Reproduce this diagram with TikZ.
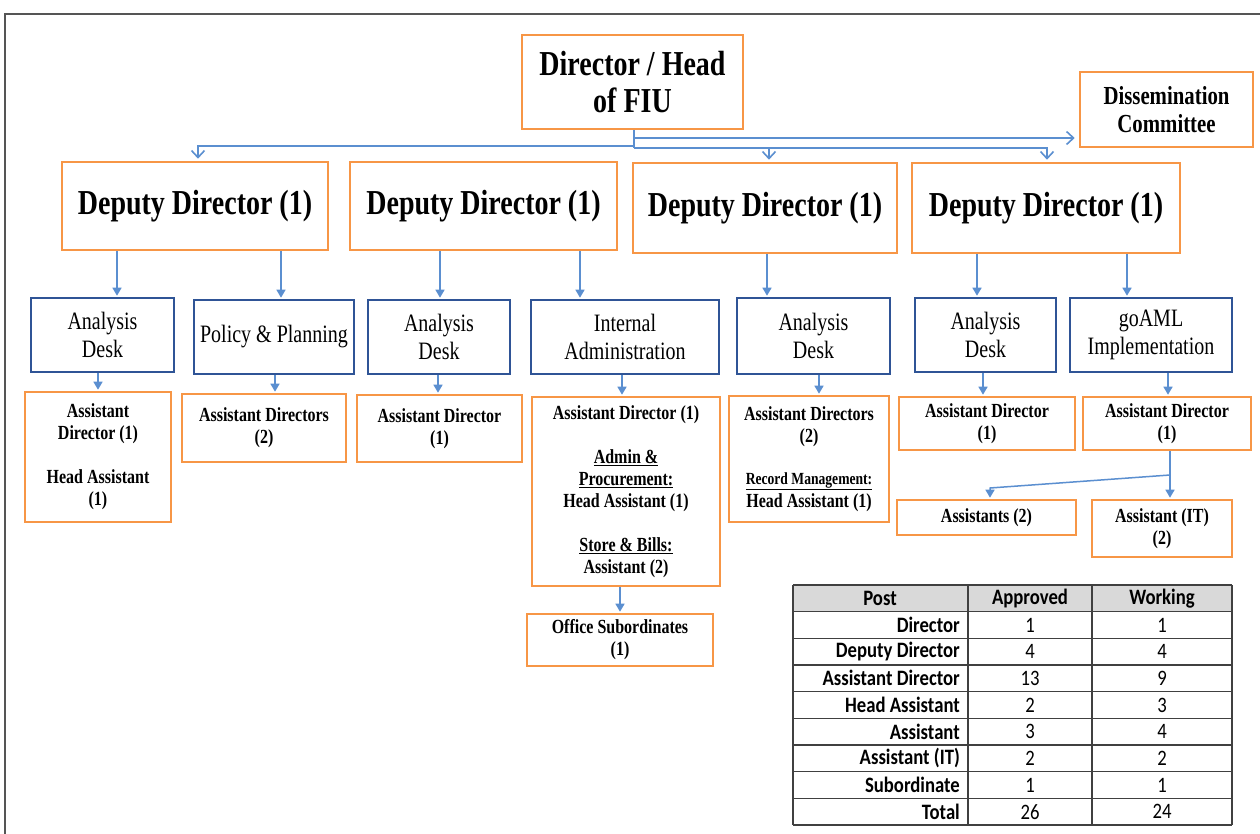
\documentclass[tikz,border=0pt]{standalone}
\usepackage{fontspec}
\setmainfont{Liberation Serif}[FakeStretch=0.8]
\newfontfamily\tabfont{Carlito}[FakeStretch=0.85]
\usetikzlibrary{arrows.meta}
\definecolor{boxorange}{HTML}{F79646}
\definecolor{boxblue}{HTML}{2F5496}
\definecolor{linkblue}{HTML}{5B8FD0}
\definecolor{framegray}{HTML}{555555}
\definecolor{headgray}{HTML}{D9D9D9}
\definecolor{gridgray}{HTML}{404040}
\begin{document}
\begin{tikzpicture}[x=1pt,y=-1pt,
  box/.style={draw, line width=2.6pt, fill=white, inner sep=0pt, align=center},
  obox/.style={box, draw=boxorange},
  bbox/.style={box, draw=boxblue, font=\fontsize{25}{28}\selectfont},
  bigtxt/.style={font=\bfseries\fontsize{35}{37}\selectfont},
  smalltxt/.style={font=\bfseries\fontsize{20}{22}\selectfont},
  arr/.style={draw=linkblue, line width=1.5pt, -{Triangle[width=9pt,length=8pt]}},
  topline/.style={draw=linkblue, line width=1.6pt},
  toparr/.style={topline, -{Straight Barb[width=13pt,length=7pt]}},
  cell/.style={font=\tabfont\fontsize{22}{23}\selectfont, inner sep=0pt},
  hcell/.style={cell, font=\tabfont\bfseries\fontsize{22}{23}\selectfont}]
\useasboundingbox (0,0) rectangle (1260,834);
\fill[white] (0,0) rectangle (1260,834);
% page frame
\draw[framegray, line width=1.6pt] (5,834) -- (5,14) -- (1260,14);

% top level
\node[obox, bigtxt, minimum width=221, minimum height=94] (dir) at (632.5,82) {Director / Head\\of FIU};
\node[obox, font=\bfseries\fontsize{26}{28}\selectfont, minimum width=173, minimum height=75] (dis) at (1166.5,109.5) {Dissemination\\Committee};

% deputy directors
\node[obox, bigtxt, minimum width=266, minimum height=88] (dd1) at (195,206) {Deputy Director (1)};
\node[obox, bigtxt, minimum width=267, minimum height=88] (dd2) at (483.5,206) {Deputy Director (1)};
\node[obox, bigtxt, minimum width=264, minimum height=90] (dd3) at (765,208) {Deputy Director (1)};
\node[obox, bigtxt, minimum width=268, minimum height=90] (dd4) at (1046,208) {Deputy Director (1)};

% sections
\node[bbox, minimum width=143, minimum height=74] (b1) at (102.5,335) {Analysis\\Desk};
\node[bbox, minimum width=160, minimum height=74] (b2) at (274,337) {Policy \& Planning};
\node[bbox, minimum width=142, minimum height=74] (b3) at (439,337) {Analysis\\Desk};
\node[bbox, minimum width=188, minimum height=74] (b4) at (625,337) {Internal\\Administration};
\node[bbox, minimum width=153, minimum height=76] (b5) at (813.5,336) {Analysis\\Desk};
\node[bbox, minimum width=141, minimum height=74] (b6) at (985.5,335) {Analysis\\Desk};
\node[bbox, minimum width=162, minimum height=74] (b7) at (1151,335) {goAML\\Implementation};

% staff
\node[obox, smalltxt, minimum width=146, minimum height=130] (o1) at (98,457) {Assistant\\Director (1)\\[22pt]Head Assistant\\(1)};
\node[obox, smalltxt, minimum width=164, minimum height=68] (o2) at (264,428) {Assistant Directors\\(2)};
\node[obox, smalltxt, minimum width=165, minimum height=67] (o3) at (439.5,428.5) {Assistant Director\\(1)};
\node[obox, smalltxt, minimum width=188, minimum height=189] (o4) at (626,491.5) {Assistant Director (1)\\[22pt]\underline{Admin \&}\\\underline{Procurement:}\\Head Assistant (1)\\[22pt]\underline{Store \& Bills:}\\Assistant (2)};
\node[obox, smalltxt, minimum width=160, minimum height=126] (o5) at (809,459) {Assistant Directors\\(2)\\[20pt]{\fontsize{17}{20}\selectfont\underline{Record Management:}}\\[1pt]Head Assistant (1)};
\node[obox, smalltxt, minimum width=176, minimum height=53] (o6) at (987,423.5) {Assistant Director\\(1)};
\node[obox, smalltxt, minimum width=168, minimum height=53] (o7) at (1167,423.5) {Assistant Director\\(1)};
\node[obox, smalltxt, minimum width=179, minimum height=35] (o8) at (986.5,517.5) {Assistants (2)};
\node[obox, smalltxt, minimum width=140, minimum height=57] (o9) at (1162,528.5) {Assistant (IT)\\(2)};
\node[obox, smalltxt, minimum width=186, minimum height=52] (o10) at (620,640) {Office Subordinates\\(1)};

% connectors from the director
\coordinate (j1) at (634,138);
\coordinate (j2) at (634,146);
\coordinate (j3) at (634,148);
\coordinate (xd1) at (198,0);
\coordinate (xd3) at (769,0);
\coordinate (xd4) at (1047,0);
\draw[topline] (dir.south -| j1) -- (j3);
\draw[toparr, shorten >=4pt] (j1) -- (dis.west |- j1);
\draw[toparr, shorten >=2pt] (j2) -| (dd1.north -| xd1);
\draw[toparr, shorten >=2pt] (j3) -| (dd4.north -| xd4);
\draw[toparr, shorten >=2pt] (j3 -| xd3) -- (dd3.north -| xd3);

% deputy to section arrows, section to staff arrows
\foreach \p/\c/\x in {dd1/b1/117, dd1/b2/281, dd2/b3/440, dd2/b4/580, dd3/b5/767, dd4/b6/977, dd4/b7/1127,
                      b1/o1/98, b2/o2/275, b3/o3/438, b4/o4/622, b5/o5/819, b6/o6/983, b7/o7/1168, o4/o10/620}{
  \coordinate (ax) at (\x,0);
  \draw[arr, shorten >=1pt] (\p.south -| ax) -- (\c.north -| ax);
}

% goAML staff split
\coordinate (gsplit) at (1170,475);
\coordinate (gleft) at (990,488);
\draw[topline] (o7.south -| gsplit) -- (gsplit);
\draw[arr, shorten >=1pt] (gsplit) -- (o9.north -| gsplit);
\draw[arr, shorten >=1pt] (gsplit) -- (gleft) -- (o8.north -| gleft);

% staffing table
\fill[headgray] (793,585) rectangle (1232,611.67);
\foreach \i in {0,...,9}{
  \draw[gridgray, line width=1.5pt] (793,{585+\i*26.67}) -- (1232,{585+\i*26.67});
}
\foreach \xx in {793,968,1092,1232}{
  \draw[gridgray, line width=1.5pt] (\xx,585) -- (\xx,825);
}
\node[hcell] (hpost) at (880,598.3) {Post};
\node[hcell] (happ) at (1030,598.3) {Approved};
\node[hcell] (hwork) at (1162,598.3) {Working};
\foreach \i/\post/\ap/\wk in {1/Director/1/1, 2/Deputy Director/4/4, 3/Assistant Director/13/9,
    4/Head Assistant/2/3, 5/Assistant/3/4, 6/Assistant (IT)/2/2, 7/Subordinate/1/1, 8/Total/26/24}{
  \node[hcell, anchor=east] (post\i) at (960,{598.3+\i*26.67}) {\post};
  \node[cell] (ap\i) at (1030,{598.3+\i*26.67}) {\ap};
  \node[cell] (wk\i) at (1162,{598.3+\i*26.67}) {\wk};
}
\end{tikzpicture}
\end{document}
